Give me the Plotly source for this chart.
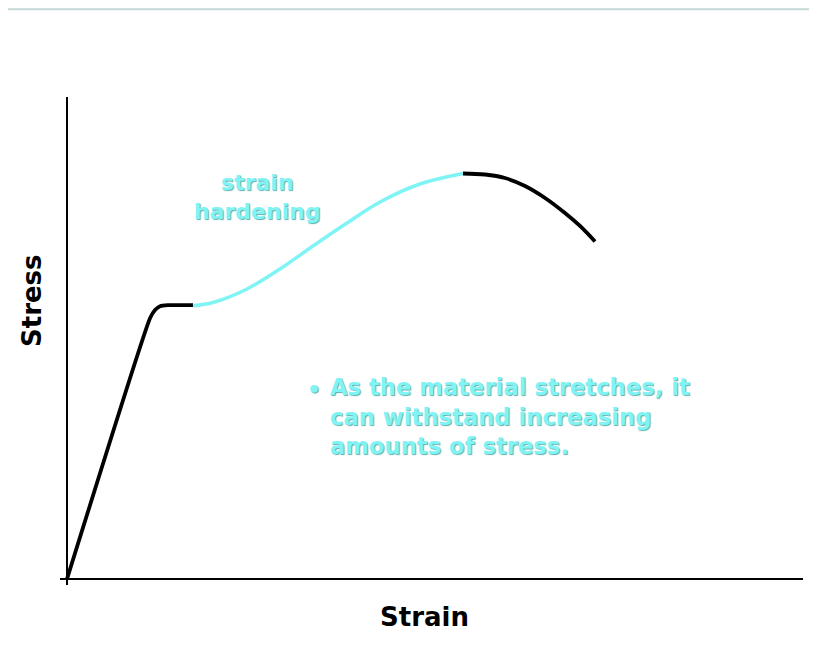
import plotly.graph_objects as go

# stress-strain curve (strain %, stress %)
elastic_x = [0, 11.28, 11.96, 12.64, 13.72, 17.12]
elastic_y = [0, 54.1, 55.8, 56.6, 56.8, 56.8]

hardening_x = [17.12, 19.84, 24.46, 28.94, 33.42, 38.04, 42.53, 47.96, 53.80]
hardening_y = [56.7, 57.37, 60.17, 64.32, 69.09, 73.86, 78.22, 81.95, 84.13]

necking_x = [53.80, 56.79, 59.51, 62.23, 64.95, 67.66, 69.70, 71.74]
necking_y = [84.13, 83.92, 83.20, 81.54, 79.05, 75.93, 73.24, 70.02]

CYAN = "#80f4f4"
FONT = "DejaVu Sans"

fig = go.Figure()
fig.add_trace(go.Scatter(x=elastic_x, y=elastic_y, mode="lines",
                         line=dict(color="black", width=3.8, shape="spline", smoothing=0.5)))
fig.add_trace(go.Scatter(x=hardening_x, y=hardening_y, mode="lines",
                         line=dict(color=CYAN, width=3.5, shape="spline", smoothing=1.0)))
fig.add_trace(go.Scatter(x=necking_x, y=necking_y, mode="lines",
                         line=dict(color="black", width=3.8, shape="spline", smoothing=1.0)))

shadow = "1px 1px 1px #5fb0b0"
fig.add_annotation(text="<b>strain<br>hardening</b>", xref="paper", yref="paper",
                   x=0.2658, y=0.795, xanchor="center", yanchor="middle",
                   showarrow=False, align="center",
                   font=dict(family=FONT, size=22, color=CYAN, shadow=shadow))
fig.add_annotation(text="<b>•</b>", xref="paper", yref="paper",
                   x=0.3297, y=0.4016, xanchor="left", yanchor="middle", showarrow=False,
                   font=dict(family=FONT, size=22, color=CYAN, shadow=shadow))
fig.add_annotation(text="<b>As the material stretches, it<br>can withstand increasing<br>amounts of stress.</b>",
                   xref="paper", yref="paper", x=0.3607, y=0.346,
                   xanchor="left", yanchor="middle", align="left", showarrow=False,
                   font=dict(family=FONT, size=22.7, color=CYAN, shadow=shadow))

fig.add_annotation(text="<b>Strain</b>", xref="paper", yref="paper", x=0.49, y=-0.0656,
                   xanchor="center", yanchor="middle",
                   showarrow=False, font=dict(family=FONT, size=26, color="black"))
fig.add_annotation(text="<b>Stress</b>", xref="paper", yref="paper", x=-0.0377, y=0.584,
                   xanchor="center", yanchor="middle",
                   textangle=-90, showarrow=False, font=dict(family=FONT, size=26, color="black"))

# thin rule along the very top of the slide
fig.add_shape(type="line", xref="paper", yref="paper", x0=-0.1, x1=1.1, y0=1.18, y1=1.18,
              line=dict(color="#c6d9d9", width=2))

fig.update_xaxes(range=[-0.951, 100], showgrid=False, showticklabels=False, ticks="",
                 zeroline=True, zerolinecolor="black", zerolinewidth=2, showline=False)
fig.update_yaxes(range=[-1.245, 100], showgrid=False, showticklabels=False, ticks="",
                 zeroline=True, zerolinecolor="black", zerolinewidth=2, showline=False)

# page body adds 8px, so margins are pulled in by that much
fig.update_layout(width=817, height=646, showlegend=False,
                  margin=dict(l=52, r=22, t=89, b=69),
                  plot_bgcolor="white", paper_bgcolor="white")

fig.write_html("out.html")
